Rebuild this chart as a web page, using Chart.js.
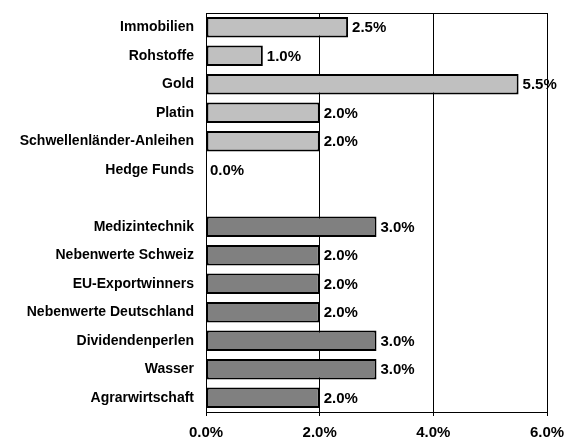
<!DOCTYPE html>
<html>
<head>
<meta charset="utf-8">
<script src="https://cdn.jsdelivr.net/npm/chart.js@4"></script>
<style>
    html, body { margin: 0; padding: 0; background: #fff; }
    #wrap { width: 565px; height: 442px; }
</style>
</head>
<body>
<div id="wrap"><canvas id="allocChart" width="565" height="442"></canvas></div>
<script>
    // Chart data
    const categories = ['Immobilien', 'Rohstoffe', 'Gold', 'Platin', 'Schwellenländer-Anleihen', 'Hedge Funds', '',
        'Medizintechnik', 'Nebenwerte Schweiz', 'EU-Exportwinners', 'Nebenwerte Deutschland', 'Dividendenperlen', 'Wasser', 'Agrarwirtschaft'];
    const weights = [2.5, 1.0, 5.5, 2.0, 2.0, 0.0, null, 3.0, 2.0, 2.0, 2.0, 3.0, 3.0, 2.0];
    const groups = ['a', 'a', 'a', 'a', 'a', 'a', 'a', 'b', 'b', 'b', 'b', 'b', 'b', 'b'];
    const xTicks = [0, 2, 4, 6];

    const barColors = groups.map(g => g === 'a' ? '#c0c0c0' : '#808080');

    Chart.defaults.color = '#000';
    Chart.defaults.font.family = 'Arial, "Liberation Sans", sans-serif';
    Chart.defaults.font.size = 14;
    Chart.defaults.font.weight = 'bold';

    // value labels right of bars + top frame line
    const valueLabels = {
        id: 'valueLabels',
        afterDatasetsDraw(chart) {
            const ctx = chart.ctx;
            const area = chart.chartArea;
            ctx.save();
            ctx.strokeStyle = '#000';
            ctx.lineWidth = 1;
            ctx.beginPath();
            ctx.moveTo(area.left, area.top + 0.5);
            ctx.lineTo(area.right, area.top + 0.5);
            ctx.stroke();

            ctx.font = 'bold 15px Arial, "Liberation Sans", sans-serif';
            ctx.fillStyle = '#000';
            ctx.textBaseline = 'middle';
            ctx.textAlign = 'left';
            const meta = chart.getDatasetMeta(0);
            meta.data.forEach((bar, i) => {
                const v = weights[i];
                if (v === null) return;
                ctx.fillText(v.toFixed(1) + '%', bar.x + 4, bar.y + 1);
            });
            ctx.restore();
        }
    };

    const ctx = document.getElementById('allocChart').getContext('2d');
    new Chart(ctx, {
        type: 'bar',
        data: {
            labels: categories,
            datasets: [{
                data: weights,
                backgroundColor: barColors,
                borderColor: '#000',
                borderWidth: 2,
                borderSkipped: false,
                barPercentage: 0.72,
                categoryPercentage: 1.0
            }]
        },
        options: {
            indexAxis: 'y',
            responsive: false,
            animation: false,
            layout: {
                padding: { top: 13, right: 18, left: 0, bottom: 0 }
            },
            plugins: {
                legend: { display: false },
                tooltip: { enabled: false }
            },
            scales: {
                x: {
                    min: 0,
                    max: 6,
                    afterBuildTicks: function (scale) {
                        scale.ticks = xTicks.map(v => ({ value: v }));
                    },
                    afterFit: function (scale) {
                        scale.height = 30;
                        scale.paddingLeft = 0;
                        scale.paddingRight = 0;
                    },
                    ticks: {
                        padding: 8,
                        font: { size: 15 },
                        callback: function (value) {
                            return value.toFixed(1) + '%';
                        }
                    },
                    grid: {
                        color: '#000',
                        lineWidth: 1,
                        tickLength: 4,
                        drawTicks: true
                    },
                    border: { display: true, color: '#000', width: 1 }
                },
                y: {
                    afterFit: function (scale) {
                        scale.width = 206;
                    },
                    ticks: {
                        padding: 4,
                        autoSkip: false
                    },
                    grid: {
                        display: false
                    },
                    border: { display: true, color: '#000', width: 1 }
                }
            }
        },
        plugins: [valueLabels]
    });
</script>
</body>
</html>
